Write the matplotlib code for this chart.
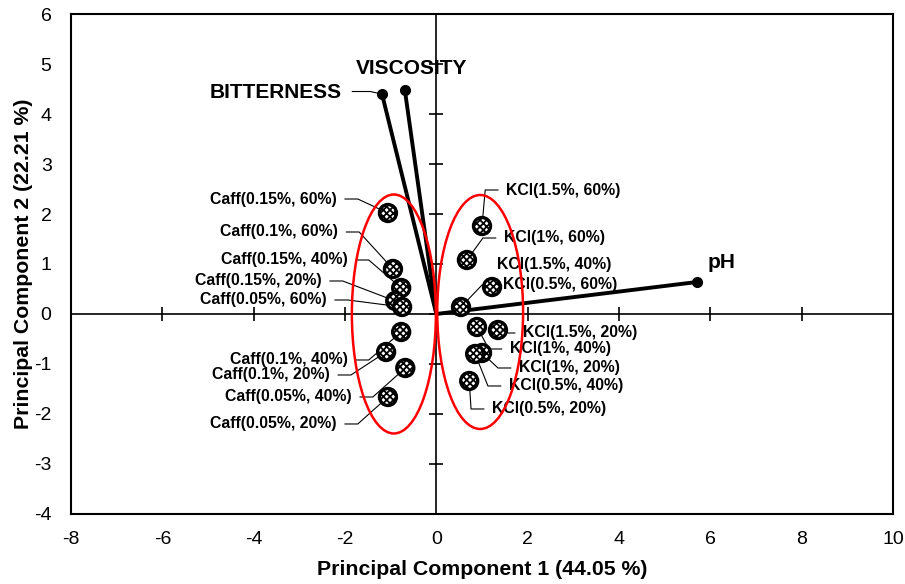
import matplotlib.pyplot as plt
import numpy as np
from matplotlib.patches import Ellipse

plt.rcParams['font.family'] = ['Liberation Sans', 'DejaVu Sans']
plt.rcParams['axes.unicode_minus'] = False
plt.rcParams['hatch.linewidth'] = 1.3

# Sample scores (PC1, PC2)
caff_names = ['Caff(0.15%, 60%)', 'Caff(0.1%, 60%)', 'Caff(0.15%, 40%)', 'Caff(0.15%, 20%)',
              'Caff(0.05%, 60%)', 'Caff(0.1%, 40%)', 'Caff(0.1%, 20%)', 'Caff(0.05%, 40%)',
              'Caff(0.05%, 20%)']
caff_pc1 = [-1.06, -0.95, -0.77, -0.90, -0.75, -0.77, -1.10, -0.68, -1.06]
caff_pc2 = [2.02, 0.90, 0.52, 0.26, 0.14, -0.36, -0.76, -1.08, -1.66]

kcl_names = ['KCl(1.5%, 60%)', 'KCl(1%, 60%)', 'KCl(1.5%, 40%)', 'KCl(0.5%, 60%)',
             'KCl(1.5%, 20%)', 'KCl(1%, 40%)', 'KCl(1%, 20%)', 'KCl(0.5%, 40%)',
             'KCl(0.5%, 20%)']
kcl_pc1 = [1.00, 0.67, 1.22, 0.54, 1.35, 0.89, 1.00, 0.85, 0.72]
kcl_pc2 = [1.76, 1.08, 0.54, 0.14, -0.32, -0.26, -0.78, -0.80, -1.34]

# Loadings
var_names = ['BITTERNESS', 'VISCOSITY', 'pH']
var_pc1 = [-1.19, -0.69, 5.71]
var_pc2 = [4.40, 4.48, 0.64]

x_ticks = [-8, -6, -4, -2, 0, 2, 4, 6, 8, 10]
y_ticks = [-4, -3, -2, -1, 0, 1, 2, 3, 4, 5, 6]

# label anchor positions (data coords)
caff_lab_x = [-2.18, -2.15, -1.94, -2.51, -2.40, -1.94, -2.33, -1.85, -2.18]
caff_lab_y = [2.30, 1.64, 1.08, 0.66, 0.28, -0.92, -1.22, -1.66, -2.20]
kcl_lab_x = [1.53, 1.48, 1.33, 1.46, 1.90, 1.61, 1.81, 1.59, 1.22]
kcl_lab_y = [2.48, 1.52, 0.98, 0.58, -0.38, -0.70, -1.08, -1.44, -1.90]
kcl_leader = [True, True, False, True, True, True, True, True, True]

fig = plt.figure(figsize=(9.05, 5.84), dpi=100)
ax = fig.add_axes([0.0785, 0.1199, 0.9082, 0.8561])
ax.set_xlim(-8, 10)
ax.set_ylim(-4, 6)
ax.set_xticks(x_ticks)
ax.set_yticks(y_ticks)
ax.tick_params(axis='x', length=0, labelsize=14, pad=12)
ax.tick_params(axis='y', length=0, labelsize=14, pad=14)
for s in ax.spines.values():
    s.set_linewidth(1.5)

# axes through origin with crossing tick marks
ax.axhline(0, color='black', lw=1.2, zorder=1)
ax.axvline(0, color='black', lw=1.2, zorder=1)
ax.plot(x_ticks[1:-1], [0] * len(x_ticks[1:-1]), ls='none', marker='|', ms=10, mew=1.2, color='black', zorder=1)
ax.plot([0] * len(y_ticks[1:-1]), y_ticks[1:-1], ls='none', marker='_', ms=10, mew=1.2, color='black', zorder=1)

# loading vectors
for vx, vy in zip(var_pc1, var_pc2):
    ax.plot([0, vx], [0, vy], color='black', lw=2.8, solid_capstyle='butt', zorder=3)
    ax.plot(vx, vy, 'o', color='black', ms=7, zorder=3)
ax.plot([-1.84, -1.45, var_pc1[0]], [4.45, 4.45, var_pc2[0]], color='black', lw=0.8, zorder=3)
ax.text(-2.07, 4.43, var_names[0], ha='right', va='center', fontsize=15, fontweight='bold')
ax.text(-0.55, 4.92, var_names[1], ha='center', va='center', fontsize=15, fontweight='bold')
ax.text(6.25, 1.02, var_names[2], ha='center', va='center', fontsize=15, fontweight='bold')

# group ellipses
ax.add_patch(Ellipse((-0.93, 0.0), 1.84, 4.78, fill=False, ec='red', lw=1.8, zorder=4))
ax.add_patch(Ellipse((0.96, 0.04), 1.88, 4.68, fill=False, ec='red', lw=1.8, zorder=4))

# leaders and labels
gap, seg = 0.18, 0.28
for name, px, py, lx, ly in zip(caff_names, caff_pc1, caff_pc2, caff_lab_x, caff_lab_y):
    ax.plot([lx + gap, lx + gap + seg, px], [ly, ly, py], color='black', lw=0.8, zorder=2)
    ax.text(lx, ly, name, ha='right', va='center', fontsize=11.4, fontweight='bold')
for name, px, py, lx, ly, lead in zip(kcl_names, kcl_pc1, kcl_pc2, kcl_lab_x, kcl_lab_y, kcl_leader):
    if lead:
        ax.plot([lx - gap, lx - gap - seg, px], [ly, ly, py], color='black', lw=0.8, zorder=2)
    ax.text(lx, ly, name, ha='left', va='center', fontsize=11.4, fontweight='bold')

# sample points
ax.scatter(caff_pc1 + kcl_pc1, caff_pc2 + kcl_pc2, s=150, facecolor='white', edgecolor='black',
           linewidth=2.4, hatch='xxxxx', zorder=5)

ax.set_xlabel('Principal Component 1 (44.05 %)', fontsize=15.3, fontweight='bold', labelpad=9)
ax.set_ylabel('Principal Component 2 (22.21 %)', fontsize=15.3, fontweight='bold', labelpad=1)

fig.savefig('out.png', dpi=100)
